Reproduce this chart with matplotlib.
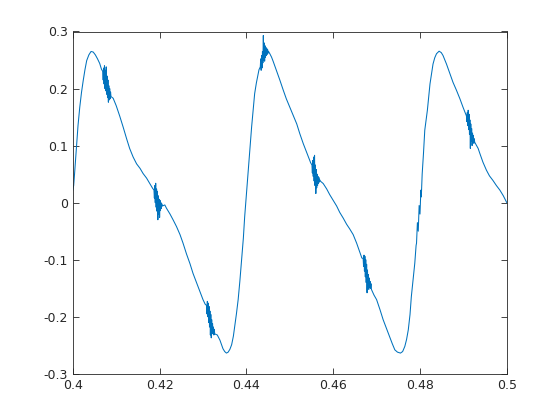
import numpy as np
import matplotlib
matplotlib.use("Agg")
import matplotlib.pyplot as plt
from matplotlib.ticker import FuncFormatter

# smooth part of the trace
t_main = [
    0.4000, 0.4002, 0.4004, 0.40085, 0.4012, 0.4016, 0.4020, 0.4024, 0.4028, 0.4032,
    0.4037, 0.4042, 0.4047, 0.4052, 0.4057, 0.4062, 0.4066,
    0.4093, 0.4100, 0.4108, 0.4116, 0.4124, 0.4131, 0.4139, 0.4147, 0.4155,
    0.4162, 0.4170, 0.4177, 0.4184,
    0.4212, 0.4216, 0.4224, 0.4231, 0.4239, 0.4247, 0.4254, 0.4262, 0.4270,
    0.4277, 0.4285, 0.4293, 0.4300, 0.4305,
    0.4333, 0.4339, 0.4346, 0.4350, 0.4354, 0.4358, 0.4362, 0.4366, 0.4370,
    0.4373, 0.4377, 0.4381, 0.4385, 0.4389, 0.4393, 0.4396, 0.4400, 0.4404,
    0.4408, 0.4412, 0.4416, 0.4419, 0.4423, 0.4427, 0.4429,
    0.4454, 0.4458, 0.4462, 0.4469, 0.4477, 0.4485, 0.4492, 0.4500, 0.4508,
    0.4516, 0.4523, 0.4531, 0.4539, 0.4546, 0.4548,
    0.4577, 0.4585, 0.4592, 0.4600, 0.4608, 0.4615, 0.4623, 0.4631, 0.4638,
    0.4646, 0.4654, 0.4661, 0.4666,
    0.4694, 0.4700, 0.4708, 0.4715, 0.4723, 0.4730, 0.4736, 0.4742, 0.4748,
    0.4755, 0.4760, 0.4765, 0.4769, 0.4773, 0.4777, 0.4780, 0.4784, 0.4788,
    0.4791,
    0.4805, 0.4808, 0.4811, 0.4817, 0.4823, 0.4827, 0.4830, 0.4834, 0.4838,
    0.4844, 0.4849, 0.4853, 0.4861, 0.4869, 0.4876, 0.4884, 0.4892, 0.4899,
    0.4904,
    0.4934, 0.4938, 0.4945, 0.4953, 0.4960, 0.4968, 0.4976, 0.4984, 0.4992,
    0.5000,
]
v_main = [
    0.022, 0.030, 0.050, 0.098, 0.135, 0.167, 0.193, 0.214, 0.233, 0.249,
    0.259, 0.265, 0.264, 0.259, 0.252, 0.244, 0.234,
    0.183, 0.170, 0.152, 0.1325, 0.112, 0.095, 0.080, 0.068, 0.060,
    0.051, 0.043, 0.034, 0.025,
    -0.004, -0.010, -0.020, -0.030, -0.042, -0.056, -0.071, -0.090, -0.107,
    -0.124, -0.140, -0.156, -0.170, -0.178,
    -0.232, -0.241, -0.256, -0.261, -0.2637, -0.262, -0.257, -0.249, -0.234,
    -0.217, -0.195, -0.170, -0.137, -0.100, -0.062, -0.025, 0.015, 0.057,
    0.097, 0.1325, 0.165, 0.191, 0.210, 0.226, 0.233,
    0.261, 0.255, 0.247, 0.232, 0.215, 0.197, 0.182, 0.1675, 0.153,
    0.138, 0.121, 0.1035, 0.088, 0.074, 0.070,
    0.0335, 0.024, 0.014, 0.004, -0.006, -0.017, -0.027, -0.038, -0.046,
    -0.056, -0.071, -0.086, -0.097,
    -0.162, -0.170, -0.188, -0.205, -0.221, -0.235, -0.247, -0.258, -0.262,
    -0.2637, -0.261, -0.252, -0.240, -0.223, -0.196, -0.165, -0.136, -0.106,
    -0.075,
    0.050, 0.086, 0.127, 0.162, 0.208, 0.228, 0.243, 0.254, 0.261,
    0.2655, 0.263, 0.258, 0.243, 0.226, 0.211, 0.197, 0.182, 0.1675,
    0.158,
    0.095, 0.086, 0.071, 0.057, 0.047, 0.039, 0.030, 0.022, 0.012,
    0.000,
]

# noisy bursts, each listed point by point
burst_t = [
    0.4069, 0.4070, 0.4071, 0.4072, 0.4073, 0.4074, 0.4075, 0.4076, 0.4077, 0.4078,
    0.4079, 0.4080, 0.4081, 0.4082, 0.4083, 0.4084, 0.4085, 0.4086, 0.4087, 0.4088,
    0.4187, 0.4188, 0.4189, 0.4190, 0.4191, 0.4192, 0.4193, 0.4194, 0.4195, 0.4196,
    0.4197, 0.4198, 0.4199, 0.4200, 0.4201, 0.4202, 0.4203, 0.4204, 0.4205, 0.4206,
    0.4308, 0.4309, 0.4310, 0.4311, 0.4312, 0.4313, 0.4314, 0.4315, 0.4316, 0.4317,
    0.4318, 0.4319, 0.4320, 0.4321, 0.4322, 0.4323, 0.4324, 0.4325, 0.4326, 0.4327,
    0.4432, 0.4433, 0.4434, 0.4435, 0.4436, 0.4437, 0.4438, 0.4439, 0.4440, 0.4441,
    0.4442, 0.4443, 0.4444, 0.4445, 0.4446, 0.4447, 0.4448, 0.4449, 0.4450, 0.4451,
    0.4551, 0.4552, 0.4553, 0.4554, 0.4555, 0.4556, 0.4557, 0.4558, 0.4559, 0.4560,
    0.4561, 0.4562, 0.4563, 0.4564, 0.4565, 0.4566, 0.4567, 0.4568, 0.4569, 0.4570,
    0.4669, 0.4670, 0.4671, 0.4672, 0.4673, 0.4674, 0.4675, 0.4676, 0.4677, 0.4678,
    0.4679, 0.4680, 0.4681, 0.4682, 0.4683, 0.4684, 0.4685, 0.4686, 0.4687, 0.4688,
    0.4792, 0.4794, 0.4796, 0.4798, 0.4800, 0.4802, 0.4803,
    0.4907, 0.4908, 0.4909, 0.4910, 0.4911, 0.4912, 0.4913, 0.4914, 0.4915, 0.4916,
    0.4917, 0.4918, 0.4919, 0.4920, 0.4921, 0.4922, 0.4923, 0.4924, 0.4925, 0.4926,
]
burst_v = [
    0.230, 0.215, 0.236, 0.208, 0.240, 0.200, 0.232, 0.196, 0.238, 0.190,
    0.222, 0.184, 0.215, 0.176, 0.205, 0.180, 0.200, 0.182, 0.194, 0.186,
    0.022, 0.008, 0.030, 0.000, 0.034, -0.008, 0.024, -0.015, 0.020, -0.030,
    0.012, -0.020, 0.006, -0.026, 0.004, -0.014, 0.000, -0.010, -0.002, -0.006,
    -0.180, -0.195, -0.173, -0.200, -0.176, -0.210, -0.182, -0.218, -0.190, -0.232,
    -0.196, -0.237, -0.205, -0.230, -0.212, -0.228, -0.218, -0.232, -0.222, -0.230,
    0.238, 0.252, 0.232, 0.258, 0.236, 0.265, 0.245, 0.293, 0.250, 0.280,
    0.248, 0.275, 0.255, 0.272, 0.258, 0.270, 0.260, 0.268, 0.262, 0.265,
    0.066, 0.052, 0.074, 0.046, 0.080, 0.038, 0.083, 0.030, 0.066, 0.016,
    0.058, 0.026, 0.050, 0.030, 0.046, 0.034, 0.044, 0.036, 0.040, 0.038,
    -0.098, -0.112, -0.092, -0.120, -0.094, -0.130, -0.100, -0.140, -0.108, -0.158,
    -0.118, -0.150, -0.126, -0.152, -0.132, -0.148, -0.138, -0.150, -0.142, -0.152,
    -0.071, -0.035, -0.050, -0.005, -0.020, 0.022, 0.010,
    0.152, 0.142, 0.158, 0.135, 0.162, 0.128, 0.155, 0.120, 0.145, 0.095,
    0.138, 0.108, 0.130, 0.100, 0.122, 0.106, 0.118, 0.104, 0.112, 0.106,
]

x_ticks = [0.4, 0.42, 0.44, 0.46, 0.48, 0.5]
y_ticks = [-0.3, -0.2, -0.1, 0, 0.1, 0.2, 0.3]

t = np.array(t_main + burst_t)
v = np.array(v_main + burst_v)
order = np.argsort(t, kind="stable")
t, v = t[order], v[order]

plt.rcParams["font.family"] = ["DejaVu Sans"]
plt.rcParams["axes.unicode_minus"] = False

fig = plt.figure(figsize=(5.6, 4.2), dpi=100)
ax = fig.add_axes([0.13, 0.11, 0.775, 0.815])
ax.plot(t, v, color="#0072BD", linewidth=0.75)

ax.set_xlim(0.4, 0.5)
ax.set_ylim(-0.3, 0.3)
ax.set_xticks(x_ticks)
ax.set_yticks(y_ticks)
ax.xaxis.set_major_formatter(FuncFormatter(lambda x, p: ("%g" % round(x, 4))))
ax.yaxis.set_major_formatter(FuncFormatter(lambda y, p: ("%g" % round(y, 4))))

edge = "#262626"
for s in ax.spines.values():
    s.set_color(edge)
    s.set_linewidth(0.6)
ax.tick_params(direction="in", top=True, right=True, length=4, width=0.6,
               colors=edge, labelsize=9)

fig.savefig("out.png", dpi=100)
